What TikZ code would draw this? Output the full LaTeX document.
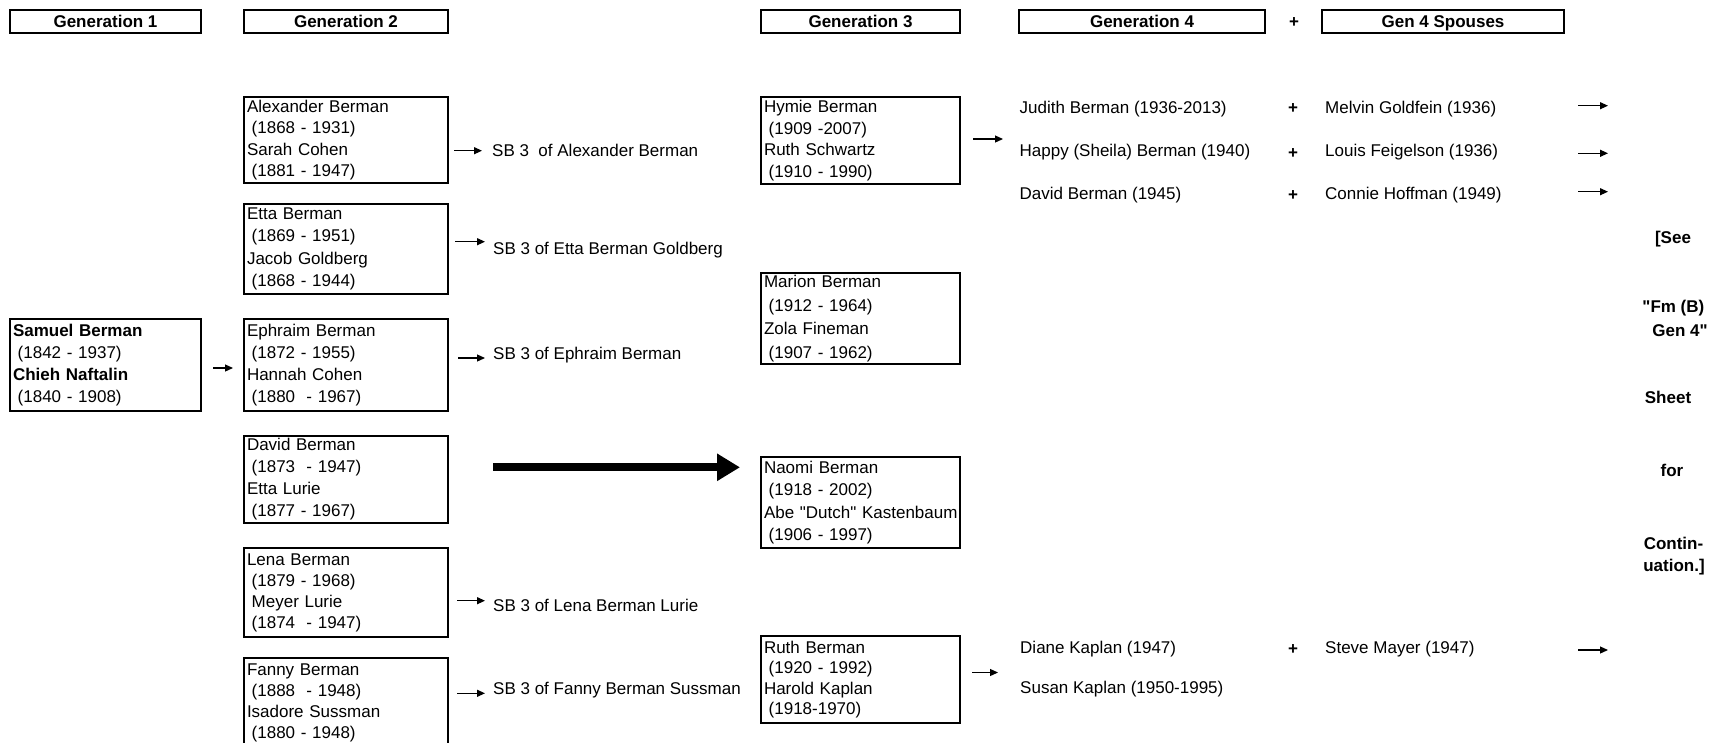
\documentclass[tikz,border=0pt]{standalone}
\usepackage{fontspec}
\setmainfont{Liberation Sans}
\usetikzlibrary{arrows.meta,calc}
\newcommand{\indsp}{\hspace*{4.7pt}}
\begin{document}
\begin{tikzpicture}[x=1pt,y=-1pt,
  every node/.style={font=\fontsize{17}{21.5}\selectfont},
  hdr/.style={draw,line width=2pt,minimum height=23pt,inner sep=0pt,anchor=north west,
    text height=12pt,text depth=0pt,
    font=\fontsize{17}{21.5}\selectfont\bfseries},
  pbox/.style={draw,line width=2pt,align=left,inner xsep=3pt,inner ysep=0pt,anchor=north west,
    font=\fontsize{17}{#1}\selectfont},
  pbox/.default=21.5,
  lbl/.style={inner sep=0pt,text height=12pt,text depth=0pt,anchor=west},
  plus/.style={inner sep=0pt,text height=12pt,text depth=0pt,font=\fontsize{17}{21.5}\selectfont\bfseries},
  side/.style={inner sep=0pt,text height=12pt,text depth=0pt,font=\fontsize{17}{21.5}\selectfont\bfseries},
  sarr/.style={line width=1.2pt,-{Triangle[length=8pt,width=7pt]}},
  bigarr/.style={line width=8.3pt,-{Triangle[length=23pt,width=26pt]}}
]
\useasboundingbox (0,0) rectangle (1716,742);

% headers
\node[hdr,minimum width=191pt] (h1) at (9,9.3) {Generation 1};
\node[hdr,minimum width=204pt] (h2) at (243,9.3) {Generation 2};
\node[hdr,minimum width=199pt] (h3) at (760,9.3) {Generation 3};
\node[hdr,minimum width=246pt] (h4) at (1018,9.3) {Generation 4};
\node[plus] (hp) at (1294,21) {+};
\node[hdr,minimum width=242pt] (h5) at (1321,9.3) {Gen 4 Spouses};

% generation 1
\node[pbox=21.8,text width=185pt,minimum height=92pt] (samuel) at (9,318)
  {\textbf{Samuel Berman}\\\indsp(1842 - 1937)\\\textbf{Chieh Naftalin}\\\indsp(1840 - 1908)};

% generation 2
\node[pbox=21.3,text width=198pt,minimum height=86pt] (alex) at (243,96)
  {Alexander Berman\\\indsp(1868 - 1931)\\Sarah Cohen\\\indsp(1881 - 1947)};
\node[pbox=22.3,text width=198pt,minimum height=90pt] (etta) at (243,203)
  {Etta Berman\\\indsp(1869 - 1951)\\Jacob Goldberg\\\indsp(1868 - 1944)};
\node[pbox=21.8,text width=198pt,minimum height=92pt] (ephraim) at (243,318)
  {Ephraim Berman\\\indsp(1872 - 1955)\\Hannah Cohen\\\indsp(1880\ \ - 1967)};
\node[pbox=22,text width=198pt,minimum height=87pt] (david) at (243,435)
  {David Berman\\\indsp(1873\ \ - 1947)\\Etta Lurie\\\indsp(1877 - 1967)};
\node[pbox=21,text width=198pt,minimum height=89pt] (lena) at (243,547)
  {Lena Berman\\\indsp(1879 - 1968)\\\indsp Meyer Lurie\\\indsp(1874\ \ - 1947)};
\node[pbox=21.2,text width=198pt,minimum height=90pt] (fanny) at (243,657)
  {Fanny Berman\\\indsp(1888\ \ - 1948)\\Isadore Sussman\\\indsp(1880 - 1948)};

% SB labels
\node[lbl] (sbalex) at (492,150.7) {SB 3\ \ of Alexander Berman};
\node[lbl] (sbetta) at (493,248) {SB 3 of Etta Berman Goldberg};
\node[lbl] (sbeph) at (493,353) {SB 3 of Ephraim Berman};
\node[lbl] (sblena) at (493,605) {SB 3 of Lena Berman Lurie};
\node[lbl] (sbfanny) at (493,688) {SB 3 of Fanny Berman Sussman};

\draw[sarr] ($(samuel.east)+(11,3)$) -- ($(ephraim.west)+(-10,3)$);
\draw[sarr] ($(alex.east |- sbalex.west)+(5,0)$) -- ($(sbalex.west)+(-10,0)$);
\draw[sarr] ($(etta.east |- sbetta.west)+(6,-6.3)$) -- ($(sbetta.west)+(-8,-6.3)$);
\draw[sarr] ($(ephraim.east |- sbeph.west)+(9,5)$) -- ($(sbeph.west)+(-8,5)$);
\draw[sarr] ($(lena.east |- sblena.west)+(8,-4.3)$) -- ($(sblena.west)+(-8,-4.3)$);
\draw[sarr] ($(fanny.east |- sbfanny.west)+(8,5.3)$) -- ($(sbfanny.west)+(-8,5.3)$);

% big arrow
\coordinate (bs) at (493,467.3);
\coordinate (be) at (740,467.3);
\draw[bigarr] (bs) -- (be);

% generation 3
\node[pbox=21.4,text width=193pt,minimum height=87pt] (hymie) at (760,96)
  {Hymie Berman\\\indsp(1909 -2007)\\Ruth Schwartz\\\indsp(1910 - 1990)};
\node[pbox=23.8,text width=193pt,minimum height=91pt] (marion) at (760,272)
  {Marion Berman\\\indsp(1912 - 1964)\\Zola Fineman\\\indsp(1907 - 1962)};
\node[pbox=22.2,text width=193pt,minimum height=91pt] (naomi) at (760,456)
  {Naomi Berman\\\indsp(1918 - 2002)\\\mbox{Abe \textquotedbl Dutch\textquotedbl\ Kastenbaum}\\\indsp(1906 - 1997)};
\node[pbox=20.5,text width=193pt,minimum height=87pt] (ruth) at (760,635)
  {Ruth Berman\\\indsp(1920 - 1992)\\Harold Kaplan\\\indsp(1918-1970)};

% generation 4
\node[lbl] (judith) at (1019.5,107.3) {Judith Berman (1936-2013)};
\node[lbl] (happy) at (1019.5,150) {Happy (Sheila) Berman (1940)};
\node[lbl] (davidb) at (1019.5,193) {David Berman (1945)};
\node[plus] (p1) at (1293,107) {+};
\node[plus] (p2) at (1293,152) {+};
\node[plus] (p3) at (1293,194.5) {+};
\node[lbl] (melvin) at (1325,107.3) {Melvin Goldfein (1936)};
\node[lbl] (louis) at (1325,150) {Louis Feigelson (1936)};
\node[lbl] (connie) at (1325,193) {Connie Hoffman (1949)};

\node[lbl] (diane) at (1020,647) {Diane Kaplan (1947)};
\node[lbl] (susan) at (1020,687) {Susan Kaplan (1950-1995)};
\node[plus] (p4) at (1293,648) {+};
\node[lbl] (steve) at (1325,647) {Steve Mayer (1947)};

\draw[sarr] ($(hymie.east)+(12,-1.5)$) -- ($(judith.west |- hymie.east)+(-16.5,-1.5)$);
\draw[sarr] ($(ruth.east)+(11,-7)$) -- ($(diane.west |- ruth.east)+(-22,-7)$);

\coordinate (e1) at (1578,105.7);
\coordinate (e2) at (1578,153.3);
\coordinate (e3) at (1578,191.7);
\coordinate (e4) at (1578,650);
\draw[sarr] (e1) -- ++(30,0);
\draw[sarr] (e2) -- ++(30,0);
\draw[sarr] (e3) -- ++(30,0);
\draw[sarr] (e4) -- ++(30,0);

% side note
\node[side] (s1) at (1673,237.7) {[See};
\node[side] (s2) at (1673.4,306) {\textquotedbl Fm (B)};
\node[side] (s3) at (1680,330) {Gen 4\textquotedbl};
\node[side] (s4) at (1668,397.7) {Sheet};
\node[side] (s5) at (1672,470) {for};
\node[side] (s6) at (1673.5,543) {Contin-};
\node[side] (s7) at (1674,565) {uation.]};
\end{tikzpicture}
\end{document}
